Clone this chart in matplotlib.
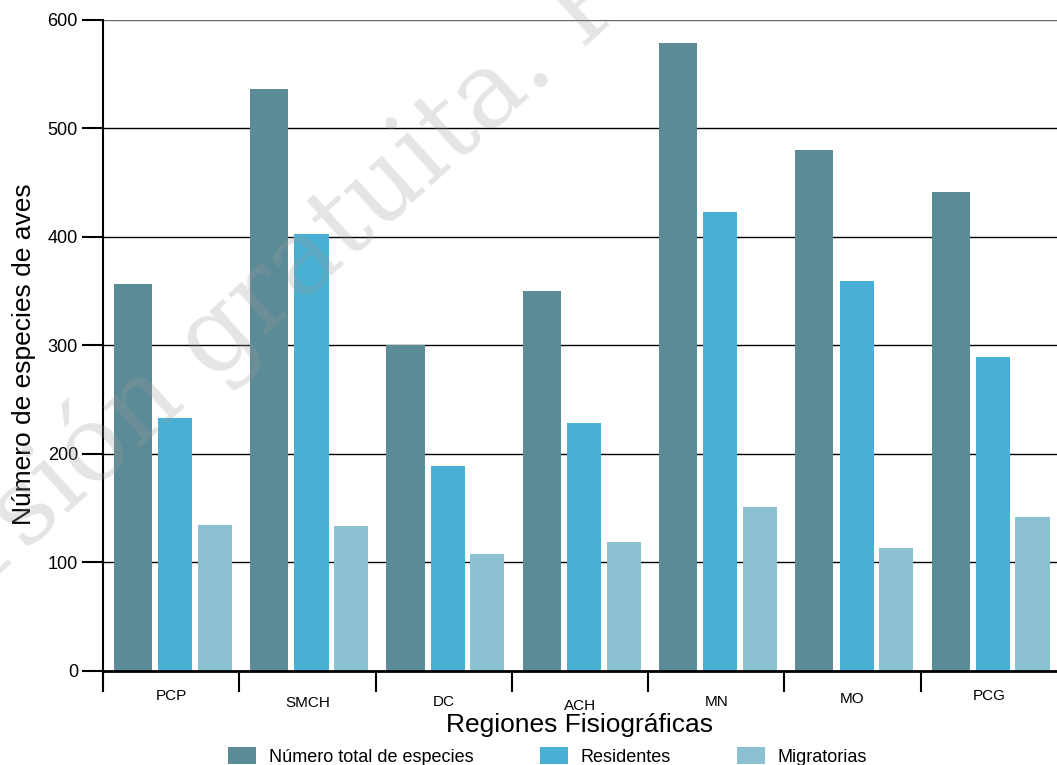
import numpy as np
import matplotlib.pyplot as plt
import matplotlib.transforms as mtransforms
from matplotlib.patches import Patch

plt.rcParams['font.family'] = ['Liberation Sans', 'DejaVu Sans']

# Data
regions = ["PCP", "SMCH", "DC", "ACH", "MN", "MO", "PCG"]
total = [357, 536, 300, 350, 579, 480, 441]
residentes = [233, 403, 189, 229, 423, 359, 289]
migratorias = [135, 134, 108, 119, 151, 113, 142]

series_names = ["Número total de especies", "Residentes", "Migratorias"]
colors = ["#5b8b97", "#48b0d2", "#8bc1d3"]

fig = plt.figure(figsize=(10.57, 7.65), dpi=100)
ax = fig.add_axes([0.0974, 0.1229, 0.9026, 0.851])

x = np.arange(len(regions))
ax.bar(x + 0.22, total, width=0.28, color=colors[0], zorder=2)
ax.bar(x + 0.53, residentes, width=0.25, color=colors[1], zorder=2)
ax.bar(x + 0.82, migratorias, width=0.25, color=colors[2], zorder=2)

ax.set_xlim(0, len(regions))
ax.set_ylim(0, 600)
ax.set_yticks(np.arange(0, 601, 100))
ax.yaxis.grid(True, color="black", linewidth=1.0, zorder=1)
ax.set_axisbelow(True)
ax.get_ygridlines()[-1].set_color("#666666")

for side in ["top", "right"]:
    ax.spines[side].set_visible(False)
ax.spines["left"].set_linewidth(1.5)
ax.spines["bottom"].set_linewidth(2)
ax.spines["left"].set_bounds(-14, 600)

# group boundaries as major ticks, names in between
ax.set_xticks(np.arange(len(regions)))
ax.set_xticklabels([])
ax.tick_params(axis="x", which="major", length=15, width=1.5, direction="out")
ax.set_xticks(x + 0.5, minor=True)
ax.set_xticklabels(regions, minor=True, fontsize=11)
ax.tick_params(axis="x", which="minor", length=0, pad=16)
label_shift = [3, -2, -1, -4, -1, 1, 3]
for lab, dy in zip(ax.get_xticklabels(minor=True), label_shift):
    lab.set_transform(lab.get_transform() + mtransforms.ScaledTranslation(0, dy / 72, fig.dpi_scale_trans))

ax.tick_params(axis="y", length=15, width=1.5, labelsize=13, pad=3)

ax.set_xlabel("Regiones Fisiográficas", fontsize=19, labelpad=0)
ax.set_ylabel("Número de especies de aves", fontsize=19)
ax.yaxis.set_label_coords(-0.07, 0.487)

handles = [Patch(facecolor=c) for c in colors]
fig.legend(handles, series_names, loc="lower center", ncol=3, frameon=False,
           fontsize=13, handlelength=1.55, handleheight=1.1, columnspacing=3.7,
           bbox_to_anchor=(0.518, -0.022), handletextpad=0.67)

# faint watermark across the chart
fig.text(-0.102, 0.122, "Versión gratuita. Prohibida su venta", fontsize=76,
         family="DejaVu Serif", color="#9a9a9a", alpha=0.26, rotation=42,
         rotation_mode="anchor", ha="left", va="baseline", zorder=10)

fig.savefig("out.png", dpi=100)
